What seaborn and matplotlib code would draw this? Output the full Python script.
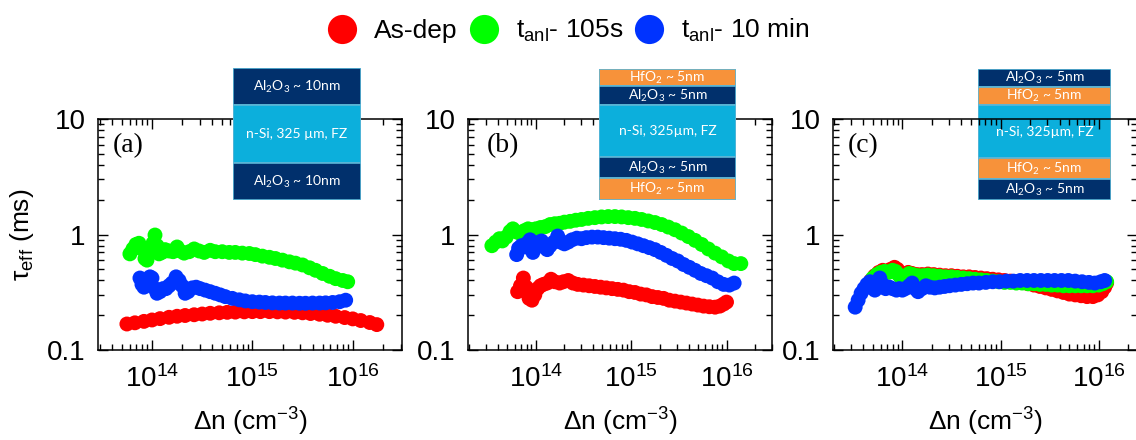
import numpy as np
import pandas as pd
import seaborn as sns
import matplotlib
matplotlib.use('Agg')
import matplotlib.pyplot as plt
from matplotlib.lines import Line2D
from matplotlib.patches import Rectangle

# legend names and colours
names = ['As-dep', r't$_{\mathregular{anl}}$- 105s', r't$_{\mathregular{anl}}$- 10 min']
colors = ['#ff0000', '#00ff00', '#0033ff']

# data: (log10 of delta n in cm^-3, tau_eff in ms)
# panel (a): Al2O3 / n-Si / Al2O3
a_asdep = [(13.75, .168), (13.83, .172), (13.92, .177), (14.0, .182), (14.08, .187), (14.17, .192),
           (14.25, .196), (14.33, .199), (14.42, .202), (14.5, .205), (14.58, .208), (14.67, .21),
           (14.75, .212), (14.83, .213), (14.92, .214), (15.0, .215), (15.08, .215), (15.17, .215),
           (15.25, .214), (15.33, .213), (15.42, .212), (15.5, .21), (15.58, .207), (15.67, .204),
           (15.75, .2), (15.83, .196), (15.92, .191), (16.0, .186), (16.08, .18), (16.17, .173),
           (16.24, .166)]
a_105s = [(13.78, .68), (13.81, .75), (13.84, .82), (13.87, .84), (13.9, .75), (13.93, .62),
          (13.95, .6), (13.98, .7), (14.01, .84), (14.03, .99), (14.05, .8), (14.07, .68),
          (14.1, .7), (14.13, .74), (14.17, .72), (14.21, .71), (14.25, .78), (14.28, .72),
          (14.32, .69), (14.37, .71), (14.42, .75), (14.47, .72), (14.52, .7), (14.58, .73),
          (14.63, .71), (14.7, .71), (14.77, .7), (14.83, .7), (14.9, .69), (14.97, .685),
          (15.03, .67), (15.1, .65), (15.17, .635), (15.23, .62), (15.3, .6), (15.37, .58),
          (15.43, .565), (15.5, .545), (15.57, .515), (15.63, .49), (15.7, .46), (15.77, .435),
          (15.83, .415), (15.9, .4), (15.95, .39)]
a_10min = [(13.88, .42), (13.9, .37), (13.92, .35), (13.95, .4), (13.98, .43), (14.0, .42),
           (14.03, .34), (14.05, .31), (14.08, .32), (14.11, .34), (14.14, .34), (14.17, .36),
           (14.2, .38), (14.24, .43), (14.27, .4), (14.3, .36), (14.33, .31), (14.36, .32),
           (14.4, .345), (14.44, .35), (14.48, .34), (14.53, .33), (14.58, .32), (14.63, .31),
           (14.68, .3), (14.73, .29), (14.8, .28), (14.87, .272), (14.93, .266), (15.0, .262),
           (15.07, .26), (15.13, .258), (15.2, .256), (15.27, .255), (15.33, .255), (15.4, .255),
           (15.47, .254), (15.53, .254), (15.6, .255), (15.67, .255), (15.73, .256), (15.8, .258),
           (15.87, .262), (15.93, .27)]

# panel (b): HfO2 / Al2O3 / n-Si / Al2O3 / HfO2
b_asdep = [(13.81, .32), (13.84, .36), (13.87, .42), (13.9, .35), (13.93, .28), (13.96, .27),
           (13.99, .3), (14.02, .34), (14.05, .36), (14.08, .37), (14.12, .38), (14.16, .41),
           (14.2, .39), (14.25, .38), (14.29, .39), (14.34, .4), (14.39, .38), (14.44, .37),
           (14.5, .365), (14.56, .36), (14.62, .355), (14.68, .35), (14.74, .345), (14.8, .34),
           (14.86, .335), (14.92, .33), (14.98, .32), (15.04, .315), (15.1, .305), (15.16, .3),
           (15.22, .29), (15.28, .285), (15.34, .28), (15.4, .27), (15.46, .265), (15.52, .26),
           (15.58, .255), (15.64, .25), (15.7, .245), (15.76, .24), (15.82, .237), (15.88, .235),
           (15.93, .24), (15.97, .25), (16.0, .26)]
b_105s = [(13.54, .8), (13.58, .86), (13.62, .92), (13.65, .88), (13.69, .95), (13.73, 1.06),
          (13.76, 1.12), (13.8, 1.05), (13.84, 1.02), (13.88, 1.08), (13.92, 1.12), (13.96, 1.1),
          (14.0, 1.12), (14.05, 1.15), (14.1, 1.17), (14.15, 1.22), (14.2, 1.24), (14.25, 1.25),
          (14.3, 1.28), (14.36, 1.3), (14.42, 1.33), (14.48, 1.35), (14.55, 1.38), (14.62, 1.4),
          (14.69, 1.42), (14.76, 1.43), (14.83, 1.43), (14.9, 1.42), (14.97, 1.4), (15.04, 1.38),
          (15.11, 1.35), (15.18, 1.31), (15.25, 1.27), (15.32, 1.22), (15.39, 1.16), (15.46, 1.1),
          (15.53, 1.03), (15.6, .96), (15.67, .89), (15.74, .82), (15.81, .75), (15.88, .69),
          (15.95, .64), (16.02, .59), (16.08, .56), (16.15, .56)]
b_10min = [(13.8, .67), (13.82, .76), (13.85, .8), (13.88, .78), (13.91, .84), (13.94, .9),
           (13.97, .7), (14.0, .78), (14.03, .85), (14.06, .88), (14.09, .78), (14.12, .74),
           (14.15, .8), (14.19, .86), (14.23, .97), (14.26, .86), (14.3, .83), (14.34, .86),
           (14.38, .9), (14.43, .93), (14.48, .92), (14.53, .94), (14.59, .95), (14.65, .95),
           (14.71, .94), (14.77, .93), (14.83, .92), (14.89, .91), (14.95, .89), (15.01, .86),
           (15.07, .83), (15.13, .8), (15.19, .77), (15.25, .74), (15.31, .7), (15.37, .66),
           (15.43, .62), (15.49, .59), (15.55, .55), (15.61, .52), (15.67, .49), (15.73, .46),
           (15.79, .44), (15.85, .42), (15.91, .39), (15.97, .37), (16.03, .365), (16.08, .38)]

# panel (c): Al2O3 / HfO2 / n-Si / HfO2 / Al2O3
c_asdep = [(13.68, .4), (13.72, .44), (13.76, .47), (13.8, .49), (13.84, .48), (13.88, .5),
           (13.92, .52), (13.95, .5), (13.98, .44), (14.02, .44), (14.06, .47), (14.1, .46),
           (14.15, .45), (14.2, .45), (14.26, .455), (14.32, .45), (14.38, .445), (14.44, .44),
           (14.5, .44), (14.56, .435), (14.62, .43), (14.68, .43), (14.74, .425), (14.8, .42),
           (14.86, .415), (14.92, .41), (14.98, .405), (15.04, .4), (15.1, .395), (15.16, .39),
           (15.22, .385), (15.28, .375), (15.34, .365), (15.4, .355), (15.46, .345), (15.52, .335),
           (15.58, .325), (15.64, .315), (15.7, .305), (15.76, .3), (15.82, .295), (15.88, .29),
           (15.94, .29), (15.99, .3), (16.03, .32), (16.06, .35), (16.08, .38)]
c_105s = [(13.7, .42), (13.74, .45), (13.78, .47), (13.82, .48), (13.86, .47), (13.9, .49),
          (13.93, .48), (13.96, .45), (13.99, .42), (14.03, .43), (14.07, .46), (14.11, .45),
          (14.16, .44), (14.21, .44), (14.26, .445), (14.32, .44), (14.38, .435), (14.44, .43),
          (14.5, .43), (14.56, .425), (14.62, .42), (14.68, .415), (14.74, .41), (14.8, .405),
          (14.86, .4), (14.92, .395), (14.98, .39), (15.04, .385), (15.1, .385), (15.16, .38),
          (15.22, .38), (15.28, .375), (15.34, .375), (15.4, .37), (15.46, .37), (15.52, .365),
          (15.58, .365), (15.64, .36), (15.7, .36), (15.76, .36), (15.82, .36), (15.88, .36),
          (15.94, .36), (16.0, .365), (16.04, .375), (16.08, .39)]
c_10min = [(13.52, .235), (13.55, .27), (13.58, .31), (13.61, .34), (13.64, .37), (13.67, .39),
           (13.7, .36), (13.72, .33), (13.75, .38), (13.77, .42), (13.8, .37), (13.83, .34),
           (13.87, .35), (13.9, .34), (13.94, .33), (13.97, .34), (14.0, .33), (14.03, .34),
           (14.07, .36), (14.1, .38), (14.13, .34), (14.16, .32), (14.2, .34), (14.24, .36),
           (14.28, .35), (14.33, .345), (14.38, .35), (14.43, .355), (14.48, .36), (14.54, .365),
           (14.6, .37), (14.66, .375), (14.72, .38), (14.78, .38), (14.85, .385), (14.92, .39),
           (14.99, .39), (15.06, .395), (15.13, .395), (15.2, .4), (15.27, .4), (15.34, .4),
           (15.41, .4), (15.48, .4), (15.55, .4), (15.62, .4), (15.69, .4), (15.76, .395),
           (15.83, .39), (15.9, .385), (15.96, .38), (16.02, .39), (16.06, .4)]

# layer stacks drawn above each panel (label, colour key)
a_layers = [(r'Al$_\mathregular{2}$O$_\mathregular{3}$ ~ 10nm', 'al'),
            ('n-Si, 325 µm, FZ', 'si'),
            (r'Al$_\mathregular{2}$O$_\mathregular{3}$ ~ 10nm', 'al')]
b_layers = [(r'HfO$_\mathregular{2}$ ~ 5nm', 'hf'),
            (r'Al$_\mathregular{2}$O$_\mathregular{3}$ ~ 5nm', 'al'),
            ('n-Si, 325µm, FZ', 'si'),
            (r'Al$_\mathregular{2}$O$_\mathregular{3}$ ~ 5nm', 'al'),
            (r'HfO$_\mathregular{2}$ ~ 5nm', 'hf')]
c_layers = [(r'Al$_\mathregular{2}$O$_\mathregular{3}$ ~ 5nm', 'al'),
            (r'HfO$_\mathregular{2}$ ~ 5nm', 'hf'),
            ('n-Si, 325µm, FZ', 'si'),
            (r'HfO$_\mathregular{2}$ ~ 5nm', 'hf'),
            (r'Al$_\mathregular{2}$O$_\mathregular{3}$ ~ 5nm', 'al')]
layer_colors = {'al': '#01306c', 'si': '#0cafdc', 'hf': '#f7923a'}

sns.set_style('ticks')
plt.rcParams['font.family'] = ['Liberation Sans', 'DejaVu Sans']
plt.rcParams['mathtext.fontset'] = 'custom'
plt.rcParams['mathtext.rm'] = 'Liberation Sans'
plt.rcParams['mathtext.it'] = 'Liberation Sans:italic'
plt.rcParams['mathtext.bf'] = 'Liberation Sans:bold'
for key in ['text.color', 'axes.labelcolor', 'xtick.color', 'ytick.color', 'axes.edgecolor']:
    plt.rcParams[key] = 'black'


def make_df(parts):
    frames = []
    for name, pts in zip(names, parts):
        arr = np.array(pts)
        frames.append(pd.DataFrame({'dn': 10 ** arr[:, 0], 'tau': arr[:, 1], 'sample': name}))
    return pd.concat(frames, ignore_index=True)


fig = plt.figure(figsize=(11.36, 4.4), dpi=100)

panels = [
    ('(a)', [a_asdep, a_105s, a_10min], 0.0863, (2.9e13, 3.1e16)),
    ('(b)', [b_asdep, b_105s, b_10min], 0.412, (1.95e13, 3.0e16)),
    ('(c)', [c_asdep, c_105s, c_10min], 0.7333, (1.97e13, 2.45e16)),
]
axes = []
for i, (tag, parts, left, xlim) in enumerate(panels):
    ax = fig.add_axes([left, 0.2045, 0.2676, 0.525])
    ax.set_facecolor('none')
    df = make_df(parts)
    sns.scatterplot(data=df, x='dn', y='tau', hue='sample', palette=colors,
                    s=115, linewidth=0, legend=False, ax=ax)
    ax.set_xscale('log')
    ax.set_yscale('log')
    ax.set_xlim(*xlim)
    ax.set_ylim(0.1, 10)
    ax.set_yticks([0.1, 1, 10])
    ax.set_yticklabels(['0.1', '1', '10'])
    ax.tick_params(which='both', direction='in', top=True, right=True, width=1)
    ax.tick_params(which='major', length=7, labelsize=20, pad=9)
    ax.tick_params(axis='x', which='major', pad=11)
    ax.tick_params(which='minor', length=4)
    for sp in ax.spines.values():
        sp.set_linewidth(1.1)
        sp.set_color('black')
    ax.set_xlabel('Δn (cm$^{\\mathregular{-3}}$)', fontsize=19, labelpad=9)
    ax.set_ylabel('')
    ax.text(0.05 if i != 1 else 0.06, 0.885, tag, transform=ax.transAxes, ha='left', va='center',
            fontsize=20, family=['Liberation Serif'])
    axes.append(ax)

axes[0].set_ylabel('τ$_{\\mathregular{eff}}$ (ms)', fontsize=19, labelpad=8)

# layer stack boxes
boxes = [(a_layers, [233, 68, 361, 200], [37, 58, 37], 5),
         (b_layers, [599, 69, 736, 200], [17, 19, 52, 21, 22], 5),
         (c_layers, [978, 69, 1111, 200], [18, 18, 53, 21, 21], -5)]
for layers, (x0, y0, x1, y1), heights, z in boxes:
    W, H = 1136.0, 440.0
    ins = fig.add_axes([x0 / W, 1 - y1 / H, (x1 - x0) / W, (y1 - y0) / H], zorder=z)
    total = sum(heights)
    ins.set_xlim(0, 1)
    ins.set_ylim(0, total)
    y = total
    for (label, key), h in zip(layers, heights):
        y -= h
        ins.add_patch(Rectangle((0, y), 1, h, facecolor=layer_colors[key],
                                edgecolor='#5cb6d6', lw=1.2))
        ins.text(0.5, y + h / 2, label, color='white', ha='center', va='center',
                 fontsize=10, family=['Lato', 'DejaVu Sans'])
    ins.axis('off')

handles = [Line2D([], [], marker='o', ls='none', markersize=21, markerfacecolor=c,
                  markeredgewidth=0) for c in colors]
fig.legend(handles, names, loc='center', bbox_to_anchor=(0.5, 0.93), ncol=3, frameon=False,
           fontsize=19, handletextpad=0.6, columnspacing=0.4, handlelength=1.2)

fig.savefig('out.png', dpi=100)
